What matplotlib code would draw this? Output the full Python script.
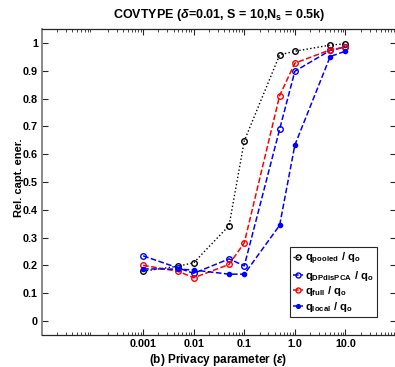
import matplotlib
matplotlib.use("Agg")
import matplotlib.pyplot as plt
from matplotlib.ticker import LogLocator, FixedLocator, NullFormatter

plt.rcParams['font.family'] = ['Liberation Sans', 'DejaVu Sans']
plt.rcParams['font.weight'] = 'bold'
plt.rcParams['mathtext.fontset'] = 'custom'
plt.rcParams['mathtext.rm'] = 'Liberation Sans:bold'
plt.rcParams['mathtext.bf'] = 'Liberation Sans:bold'
plt.rcParams['mathtext.it'] = 'Liberation Sans:bold:italic'

eps = [0.001, 0.005, 0.01, 0.05, 0.1, 0.5, 1.0, 5.0, 10.0]
q_pooled = [0.179, 0.197, 0.209, 0.343, 0.648, 0.958, 0.971, 0.993, 0.998]
q_dpdispca = [0.234, 0.190, 0.171, 0.223, 0.198, 0.690, 0.899, 0.974, 0.986]
q_full = [0.200, 0.178, 0.155, 0.203, 0.281, 0.811, 0.928, 0.976, 0.986]
q_local = [0.187, 0.186, 0.183, 0.168, 0.168, 0.344, 0.633, 0.952, 0.971]

xtick_vals = [0.001, 0.01, 0.1, 1.0, 10.0]
xtick_labels = ['0.001', '0.01', '0.1', '1.0', '10.0']
ytick_vals = [0, 0.1, 0.2, 0.3, 0.4, 0.5, 0.6, 0.7, 0.8, 0.9, 1.0]
ytick_labels = ['0', '0.1', '0.2', '0.3', '0.4', '0.5', '0.6', '0.7', '0.8', '0.9', '1']

W, H = 395, 367
fig = plt.figure(figsize=(W / 100, H / 100), dpi=100)
ax = fig.add_axes([42 / W, 32.3 / H, (396 - 42) / W, (334.7 - 29.3) / H])

ax.plot(eps, q_pooled, ':', color='black', marker='o', mfc='none', ms=4, mew=1, lw=1,
        label=r'$\mathbf{q_{pooled}\ /\ q_o}$')
ax.plot(eps, q_dpdispca, '--', color='blue', marker='o', mfc='none', ms=4, mew=1, lw=1.1,
        label=r'$\mathbf{q_{DPdisPCA}\ /\ q_o}$')
ax.plot(eps, q_full, '--', color='red', marker='o', mfc='none', ms=4, mew=1, lw=1.1,
        label=r'$\mathbf{q_{full}\ /\ q_o}$')
ax.plot(eps, q_local, '--', color='blue', marker='.', ms=6, lw=1.1,
        label=r'$\mathbf{q_{local}\ /\ q_o}$')

ax.set_xscale('log')
ax.set_xlim(1e-5, 1e2)
ax.set_ylim(-0.05, 1.05)
ax.xaxis.set_major_locator(FixedLocator(xtick_vals))
ax.set_xticklabels(xtick_labels)
ax.xaxis.set_minor_locator(LogLocator(base=10, subs=range(2, 10), numticks=20))
ax.xaxis.set_minor_formatter(NullFormatter())
ax.set_yticks(ytick_vals)
ax.set_yticklabels(ytick_labels)

ax.tick_params(which='both', direction='in', top=True, right=True, labelsize=7.8,
               color='#262626', pad=3)
ax.tick_params(which='major', length=4, width=0.8)
ax.tick_params(which='minor', length=2.2, width=0.6)
for s in ax.spines.values():
    s.set_color('#262626')
    s.set_linewidth(0.9)
ax.spines['left'].set_color('#808080')
ax.spines['left'].set_linewidth(1.3)

ax.set_title(r'COVTYPE ($\delta$=0.01, S = 10,N$_\mathregular{s}$ = 0.5k)', fontsize=9,
             fontweight='bold', pad=8)
fig.text(218 / W, 1 - 359.5 / H, r'(b) Privacy parameter ($\epsilon$)', ha='center',
         va='center', fontsize=8.5, fontweight='bold')
fig.text(19 / W, 1 - 178 / H, 'Rel. capt. ener.', rotation=90, ha='center', va='center',
         fontsize=8, fontweight='bold')

leg = ax.legend(loc='lower right', bbox_to_anchor=((376.7 - 42) / 354, (334.7 - 317.3) / 305.4),
                fontsize=8, handlelength=0.9, handletextpad=0.15, borderpad=0.3,
                labelspacing=0.15, fancybox=False, framealpha=1, borderaxespad=0,
                markerscale=0.9)
leg.get_frame().set_edgecolor('#262626')
leg.get_frame().set_linewidth(0.8)

fig.savefig('out.png', dpi=100)
